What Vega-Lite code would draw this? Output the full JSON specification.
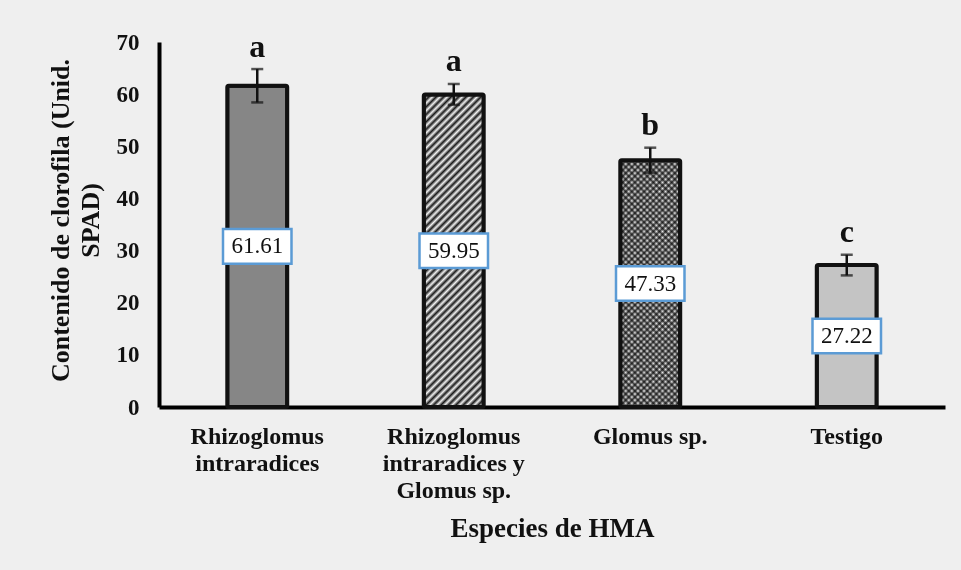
{
  "$schema": "https://vega.github.io/schema/vega-lite/v6.json",
  "width": 786,
  "height": 365,
  "autosize": "none",
  "padding": {"left": 159, "top": 42, "right": 16, "bottom": 163},
  "background": "#efefef",
  "config": {
    "font": "Liberation Serif",
    "view": {"stroke": null}
  },
  "data": {
    "values": [
      {"especie": "Rhizoglomus intraradices", "media": 61.61, "inf": 58.41, "sup": 64.81, "letra": "a"},
      {"especie": "Rhizoglomus intraradices y Glomus sp.", "media": 59.95, "inf": 57.95, "sup": 61.95, "letra": "a"},
      {"especie": "Glomus sp.", "media": 47.33, "inf": 44.93, "sup": 49.73, "letra": "b"},
      {"especie": "Testigo", "media": 27.22, "inf": 25.24, "sup": 29.2, "letra": "c"}
    ]
  },
  "transform": [{"calculate": "datum.media / 2", "as": "centro"}],
  "encoding": {
    "x": {
      "field": "especie",
      "type": "nominal",
      "sort": null,
      "scale": {"paddingInner": 0.695, "paddingOuter": 0.3475},
      "axis": {
        "title": "Especies de HMA",
        "titleFontSize": 27,
        "titleFontWeight": "bold",
        "titleColor": "#111",
        "titleBaseline": "alphabetic",
        "titleY": 129,
        "labelAngle": 0,
        "labelFontSize": 24,
        "labelFontWeight": "bold",
        "labelColor": "#111",
        "labelAlign": "center",
        "labelBaseline": "alphabetic",
        "labelLineHeight": 27,
        "labelPadding": 36,
        "labelLimit": 0,
        "ticks": false,
        "tickSize": 0,
        "domainColor": "#000",
        "domainWidth": 4,
        "labelExpr": "datum.value == 'Rhizoglomus intraradices' ? ['Rhizoglomus', 'intraradices'] : datum.value == 'Rhizoglomus intraradices y Glomus sp.' ? ['Rhizoglomus', 'intraradices y', 'Glomus sp.'] : datum.value"
      }
    }
  },
  "layer": [
    {
      "mark": {"type": "bar"},
      "encoding": {
        "y": {
          "field": "media",
          "type": "quantitative",
          "scale": {"domain": [0, 70], "nice": false},
          "axis": {
            "title": ["Contenido de clorofila (Unid.", "SPAD)"],
            "titleFontSize": 26,
            "titleFontWeight": "bold",
            "titleColor": "#111",
            "titleLineHeight": 30,
            "titleAngle": -90,
            "titleAlign": "center",
            "titleBaseline": "middle",
            "titleX": -99,
            "titleY": 178,
            "values": [0, 10, 20, 30, 40, 50, 60, 70],
            "labelFontSize": 23,
            "labelFontWeight": "bold",
            "labelColor": "#111",
            "labelPadding": 20,
            "ticks": false,
            "tickSize": 0,
            "grid": false,
            "domainColor": "#000",
            "domainWidth": 4
          }
        },
        "fill": {
          "field": "especie",
          "type": "nominal",
          "sort": null,
          "scale": {"range": ["#868686", "#7e7e7e", "#a2a2a2", "#c4c4c4"]},
          "legend": null
        }
      }
    },
    {
      "transform": [{"filter": "datum.especie == 'Rhizoglomus intraradices y Glomus sp.'"}],
      "mark": {
        "type": "bar",
        "fill": {
          "gradient": "linear", "x1": 0, "y1": 0, "x2": 0.2204, "y2": 1.1494,
          "stops": [
            {"offset": 0, "color": "#1a1a1a"}, {"offset": 0.01, "color": "#f2f2f2"}, {"offset": 0.02, "color": "#1a1a1a"}, {"offset": 0.03, "color": "#f2f2f2"}, {"offset": 0.04, "color": "#1a1a1a"}, {"offset": 0.05, "color": "#f2f2f2"}, {"offset": 0.06, "color": "#1a1a1a"}, {"offset": 0.07, "color": "#f2f2f2"}, {"offset": 0.08, "color": "#1a1a1a"}, {"offset": 0.09, "color": "#f2f2f2"},
            {"offset": 0.1, "color": "#1a1a1a"}, {"offset": 0.11, "color": "#f2f2f2"}, {"offset": 0.12, "color": "#1a1a1a"}, {"offset": 0.13, "color": "#f2f2f2"}, {"offset": 0.14, "color": "#1a1a1a"}, {"offset": 0.15, "color": "#f2f2f2"}, {"offset": 0.16, "color": "#1a1a1a"}, {"offset": 0.17, "color": "#f2f2f2"}, {"offset": 0.18, "color": "#1a1a1a"}, {"offset": 0.19, "color": "#f2f2f2"},
            {"offset": 0.2, "color": "#1a1a1a"}, {"offset": 0.21, "color": "#f2f2f2"}, {"offset": 0.22, "color": "#1a1a1a"}, {"offset": 0.23, "color": "#f2f2f2"}, {"offset": 0.24, "color": "#1a1a1a"}, {"offset": 0.25, "color": "#f2f2f2"}, {"offset": 0.26, "color": "#1a1a1a"}, {"offset": 0.27, "color": "#f2f2f2"}, {"offset": 0.28, "color": "#1a1a1a"}, {"offset": 0.29, "color": "#f2f2f2"},
            {"offset": 0.3, "color": "#1a1a1a"}, {"offset": 0.31, "color": "#f2f2f2"}, {"offset": 0.32, "color": "#1a1a1a"}, {"offset": 0.33, "color": "#f2f2f2"}, {"offset": 0.34, "color": "#1a1a1a"}, {"offset": 0.35, "color": "#f2f2f2"}, {"offset": 0.36, "color": "#1a1a1a"}, {"offset": 0.37, "color": "#f2f2f2"}, {"offset": 0.38, "color": "#1a1a1a"}, {"offset": 0.39, "color": "#f2f2f2"},
            {"offset": 0.4, "color": "#1a1a1a"}, {"offset": 0.41, "color": "#f2f2f2"}, {"offset": 0.42, "color": "#1a1a1a"}, {"offset": 0.43, "color": "#f2f2f2"}, {"offset": 0.44, "color": "#1a1a1a"}, {"offset": 0.45, "color": "#f2f2f2"}, {"offset": 0.46, "color": "#1a1a1a"}, {"offset": 0.47, "color": "#f2f2f2"}, {"offset": 0.48, "color": "#1a1a1a"}, {"offset": 0.49, "color": "#f2f2f2"},
            {"offset": 0.5, "color": "#1a1a1a"}, {"offset": 0.51, "color": "#f2f2f2"}, {"offset": 0.52, "color": "#1a1a1a"}, {"offset": 0.53, "color": "#f2f2f2"}, {"offset": 0.54, "color": "#1a1a1a"}, {"offset": 0.55, "color": "#f2f2f2"}, {"offset": 0.56, "color": "#1a1a1a"}, {"offset": 0.57, "color": "#f2f2f2"}, {"offset": 0.58, "color": "#1a1a1a"}, {"offset": 0.59, "color": "#f2f2f2"},
            {"offset": 0.6, "color": "#1a1a1a"}, {"offset": 0.61, "color": "#f2f2f2"}, {"offset": 0.62, "color": "#1a1a1a"}, {"offset": 0.63, "color": "#f2f2f2"}, {"offset": 0.64, "color": "#1a1a1a"}, {"offset": 0.65, "color": "#f2f2f2"}, {"offset": 0.66, "color": "#1a1a1a"}, {"offset": 0.67, "color": "#f2f2f2"}, {"offset": 0.68, "color": "#1a1a1a"}, {"offset": 0.69, "color": "#f2f2f2"},
            {"offset": 0.7, "color": "#1a1a1a"}, {"offset": 0.71, "color": "#f2f2f2"}, {"offset": 0.72, "color": "#1a1a1a"}, {"offset": 0.73, "color": "#f2f2f2"}, {"offset": 0.74, "color": "#1a1a1a"}, {"offset": 0.75, "color": "#f2f2f2"}, {"offset": 0.76, "color": "#1a1a1a"}, {"offset": 0.77, "color": "#f2f2f2"}, {"offset": 0.78, "color": "#1a1a1a"}, {"offset": 0.79, "color": "#f2f2f2"},
            {"offset": 0.8, "color": "#1a1a1a"}, {"offset": 0.81, "color": "#f2f2f2"}, {"offset": 0.82, "color": "#1a1a1a"}, {"offset": 0.83, "color": "#f2f2f2"}, {"offset": 0.84, "color": "#1a1a1a"}, {"offset": 0.85, "color": "#f2f2f2"}, {"offset": 0.86, "color": "#1a1a1a"}, {"offset": 0.87, "color": "#f2f2f2"}, {"offset": 0.88, "color": "#1a1a1a"}, {"offset": 0.89, "color": "#f2f2f2"},
            {"offset": 0.9, "color": "#1a1a1a"}, {"offset": 0.91, "color": "#f2f2f2"}, {"offset": 0.92, "color": "#1a1a1a"}, {"offset": 0.93, "color": "#f2f2f2"}, {"offset": 0.94, "color": "#1a1a1a"}, {"offset": 0.95, "color": "#f2f2f2"}, {"offset": 0.96, "color": "#1a1a1a"}, {"offset": 0.97, "color": "#f2f2f2"}, {"offset": 0.98, "color": "#1a1a1a"}, {"offset": 0.99, "color": "#f2f2f2"},
            {"offset": 1, "color": "#1a1a1a"}
          ]
        }
      },
      "encoding": {"y": {"field": "media", "type": "quantitative"}}
    },
    {
      "transform": [{"filter": "datum.especie == 'Glomus sp.'"}],
      "mark": {
        "type": "bar",
        "fill": {
          "gradient": "linear", "x1": 0, "y1": 0, "x2": 0.285, "y2": 1.1735,
          "stops": [
            {"offset": 0, "color": "#4a4a4a"}, {"offset": 0.01, "color": "#f6f6f6"}, {"offset": 0.02, "color": "#4a4a4a"}, {"offset": 0.03, "color": "#f6f6f6"}, {"offset": 0.04, "color": "#4a4a4a"}, {"offset": 0.05, "color": "#f6f6f6"}, {"offset": 0.06, "color": "#4a4a4a"}, {"offset": 0.07, "color": "#f6f6f6"}, {"offset": 0.08, "color": "#4a4a4a"}, {"offset": 0.09, "color": "#f6f6f6"},
            {"offset": 0.1, "color": "#4a4a4a"}, {"offset": 0.11, "color": "#f6f6f6"}, {"offset": 0.12, "color": "#4a4a4a"}, {"offset": 0.13, "color": "#f6f6f6"}, {"offset": 0.14, "color": "#4a4a4a"}, {"offset": 0.15, "color": "#f6f6f6"}, {"offset": 0.16, "color": "#4a4a4a"}, {"offset": 0.17, "color": "#f6f6f6"}, {"offset": 0.18, "color": "#4a4a4a"}, {"offset": 0.19, "color": "#f6f6f6"},
            {"offset": 0.2, "color": "#4a4a4a"}, {"offset": 0.21, "color": "#f6f6f6"}, {"offset": 0.22, "color": "#4a4a4a"}, {"offset": 0.23, "color": "#f6f6f6"}, {"offset": 0.24, "color": "#4a4a4a"}, {"offset": 0.25, "color": "#f6f6f6"}, {"offset": 0.26, "color": "#4a4a4a"}, {"offset": 0.27, "color": "#f6f6f6"}, {"offset": 0.28, "color": "#4a4a4a"}, {"offset": 0.29, "color": "#f6f6f6"},
            {"offset": 0.3, "color": "#4a4a4a"}, {"offset": 0.31, "color": "#f6f6f6"}, {"offset": 0.32, "color": "#4a4a4a"}, {"offset": 0.33, "color": "#f6f6f6"}, {"offset": 0.34, "color": "#4a4a4a"}, {"offset": 0.35, "color": "#f6f6f6"}, {"offset": 0.36, "color": "#4a4a4a"}, {"offset": 0.37, "color": "#f6f6f6"}, {"offset": 0.38, "color": "#4a4a4a"}, {"offset": 0.39, "color": "#f6f6f6"},
            {"offset": 0.4, "color": "#4a4a4a"}, {"offset": 0.41, "color": "#f6f6f6"}, {"offset": 0.42, "color": "#4a4a4a"}, {"offset": 0.43, "color": "#f6f6f6"}, {"offset": 0.44, "color": "#4a4a4a"}, {"offset": 0.45, "color": "#f6f6f6"}, {"offset": 0.46, "color": "#4a4a4a"}, {"offset": 0.47, "color": "#f6f6f6"}, {"offset": 0.48, "color": "#4a4a4a"}, {"offset": 0.49, "color": "#f6f6f6"},
            {"offset": 0.5, "color": "#4a4a4a"}, {"offset": 0.51, "color": "#f6f6f6"}, {"offset": 0.52, "color": "#4a4a4a"}, {"offset": 0.53, "color": "#f6f6f6"}, {"offset": 0.54, "color": "#4a4a4a"}, {"offset": 0.55, "color": "#f6f6f6"}, {"offset": 0.56, "color": "#4a4a4a"}, {"offset": 0.57, "color": "#f6f6f6"}, {"offset": 0.58, "color": "#4a4a4a"}, {"offset": 0.59, "color": "#f6f6f6"},
            {"offset": 0.6, "color": "#4a4a4a"}, {"offset": 0.61, "color": "#f6f6f6"}, {"offset": 0.62, "color": "#4a4a4a"}, {"offset": 0.63, "color": "#f6f6f6"}, {"offset": 0.64, "color": "#4a4a4a"}, {"offset": 0.65, "color": "#f6f6f6"}, {"offset": 0.66, "color": "#4a4a4a"}, {"offset": 0.67, "color": "#f6f6f6"}, {"offset": 0.68, "color": "#4a4a4a"}, {"offset": 0.69, "color": "#f6f6f6"},
            {"offset": 0.7, "color": "#4a4a4a"}, {"offset": 0.71, "color": "#f6f6f6"}, {"offset": 0.72, "color": "#4a4a4a"}, {"offset": 0.73, "color": "#f6f6f6"}, {"offset": 0.74, "color": "#4a4a4a"}, {"offset": 0.75, "color": "#f6f6f6"}, {"offset": 0.76, "color": "#4a4a4a"}, {"offset": 0.77, "color": "#f6f6f6"}, {"offset": 0.78, "color": "#4a4a4a"}, {"offset": 0.79, "color": "#f6f6f6"},
            {"offset": 0.8, "color": "#4a4a4a"}, {"offset": 0.81, "color": "#f6f6f6"}, {"offset": 0.82, "color": "#4a4a4a"}, {"offset": 0.83, "color": "#f6f6f6"}, {"offset": 0.84, "color": "#4a4a4a"}, {"offset": 0.85, "color": "#f6f6f6"}, {"offset": 0.86, "color": "#4a4a4a"}, {"offset": 0.87, "color": "#f6f6f6"}, {"offset": 0.88, "color": "#4a4a4a"}, {"offset": 0.89, "color": "#f6f6f6"},
            {"offset": 0.9, "color": "#4a4a4a"}, {"offset": 0.91, "color": "#f6f6f6"}, {"offset": 0.92, "color": "#4a4a4a"}, {"offset": 0.93, "color": "#f6f6f6"}, {"offset": 0.94, "color": "#4a4a4a"}, {"offset": 0.95, "color": "#f6f6f6"}, {"offset": 0.96, "color": "#4a4a4a"}, {"offset": 0.97, "color": "#f6f6f6"}, {"offset": 0.98, "color": "#4a4a4a"}, {"offset": 0.99, "color": "#f6f6f6"},
            {"offset": 1, "color": "#4a4a4a"}
          ]
        }
      },
      "encoding": {"y": {"field": "media", "type": "quantitative"}}
    },
    {
      "transform": [{"filter": "datum.especie == 'Glomus sp.'"}],
      "mark": {
        "type": "bar",
        "blend": "multiply",
        "fill": {
          "gradient": "linear", "x1": 0, "y1": 1, "x2": 0.285, "y2": -0.1735,
          "stops": [
            {"offset": 0, "color": "#4a4a4a"}, {"offset": 0.01, "color": "#f6f6f6"}, {"offset": 0.02, "color": "#4a4a4a"}, {"offset": 0.03, "color": "#f6f6f6"}, {"offset": 0.04, "color": "#4a4a4a"}, {"offset": 0.05, "color": "#f6f6f6"}, {"offset": 0.06, "color": "#4a4a4a"}, {"offset": 0.07, "color": "#f6f6f6"}, {"offset": 0.08, "color": "#4a4a4a"}, {"offset": 0.09, "color": "#f6f6f6"},
            {"offset": 0.1, "color": "#4a4a4a"}, {"offset": 0.11, "color": "#f6f6f6"}, {"offset": 0.12, "color": "#4a4a4a"}, {"offset": 0.13, "color": "#f6f6f6"}, {"offset": 0.14, "color": "#4a4a4a"}, {"offset": 0.15, "color": "#f6f6f6"}, {"offset": 0.16, "color": "#4a4a4a"}, {"offset": 0.17, "color": "#f6f6f6"}, {"offset": 0.18, "color": "#4a4a4a"}, {"offset": 0.19, "color": "#f6f6f6"},
            {"offset": 0.2, "color": "#4a4a4a"}, {"offset": 0.21, "color": "#f6f6f6"}, {"offset": 0.22, "color": "#4a4a4a"}, {"offset": 0.23, "color": "#f6f6f6"}, {"offset": 0.24, "color": "#4a4a4a"}, {"offset": 0.25, "color": "#f6f6f6"}, {"offset": 0.26, "color": "#4a4a4a"}, {"offset": 0.27, "color": "#f6f6f6"}, {"offset": 0.28, "color": "#4a4a4a"}, {"offset": 0.29, "color": "#f6f6f6"},
            {"offset": 0.3, "color": "#4a4a4a"}, {"offset": 0.31, "color": "#f6f6f6"}, {"offset": 0.32, "color": "#4a4a4a"}, {"offset": 0.33, "color": "#f6f6f6"}, {"offset": 0.34, "color": "#4a4a4a"}, {"offset": 0.35, "color": "#f6f6f6"}, {"offset": 0.36, "color": "#4a4a4a"}, {"offset": 0.37, "color": "#f6f6f6"}, {"offset": 0.38, "color": "#4a4a4a"}, {"offset": 0.39, "color": "#f6f6f6"},
            {"offset": 0.4, "color": "#4a4a4a"}, {"offset": 0.41, "color": "#f6f6f6"}, {"offset": 0.42, "color": "#4a4a4a"}, {"offset": 0.43, "color": "#f6f6f6"}, {"offset": 0.44, "color": "#4a4a4a"}, {"offset": 0.45, "color": "#f6f6f6"}, {"offset": 0.46, "color": "#4a4a4a"}, {"offset": 0.47, "color": "#f6f6f6"}, {"offset": 0.48, "color": "#4a4a4a"}, {"offset": 0.49, "color": "#f6f6f6"},
            {"offset": 0.5, "color": "#4a4a4a"}, {"offset": 0.51, "color": "#f6f6f6"}, {"offset": 0.52, "color": "#4a4a4a"}, {"offset": 0.53, "color": "#f6f6f6"}, {"offset": 0.54, "color": "#4a4a4a"}, {"offset": 0.55, "color": "#f6f6f6"}, {"offset": 0.56, "color": "#4a4a4a"}, {"offset": 0.57, "color": "#f6f6f6"}, {"offset": 0.58, "color": "#4a4a4a"}, {"offset": 0.59, "color": "#f6f6f6"},
            {"offset": 0.6, "color": "#4a4a4a"}, {"offset": 0.61, "color": "#f6f6f6"}, {"offset": 0.62, "color": "#4a4a4a"}, {"offset": 0.63, "color": "#f6f6f6"}, {"offset": 0.64, "color": "#4a4a4a"}, {"offset": 0.65, "color": "#f6f6f6"}, {"offset": 0.66, "color": "#4a4a4a"}, {"offset": 0.67, "color": "#f6f6f6"}, {"offset": 0.68, "color": "#4a4a4a"}, {"offset": 0.69, "color": "#f6f6f6"},
            {"offset": 0.7, "color": "#4a4a4a"}, {"offset": 0.71, "color": "#f6f6f6"}, {"offset": 0.72, "color": "#4a4a4a"}, {"offset": 0.73, "color": "#f6f6f6"}, {"offset": 0.74, "color": "#4a4a4a"}, {"offset": 0.75, "color": "#f6f6f6"}, {"offset": 0.76, "color": "#4a4a4a"}, {"offset": 0.77, "color": "#f6f6f6"}, {"offset": 0.78, "color": "#4a4a4a"}, {"offset": 0.79, "color": "#f6f6f6"},
            {"offset": 0.8, "color": "#4a4a4a"}, {"offset": 0.81, "color": "#f6f6f6"}, {"offset": 0.82, "color": "#4a4a4a"}, {"offset": 0.83, "color": "#f6f6f6"}, {"offset": 0.84, "color": "#4a4a4a"}, {"offset": 0.85, "color": "#f6f6f6"}, {"offset": 0.86, "color": "#4a4a4a"}, {"offset": 0.87, "color": "#f6f6f6"}, {"offset": 0.88, "color": "#4a4a4a"}, {"offset": 0.89, "color": "#f6f6f6"},
            {"offset": 0.9, "color": "#4a4a4a"}, {"offset": 0.91, "color": "#f6f6f6"}, {"offset": 0.92, "color": "#4a4a4a"}, {"offset": 0.93, "color": "#f6f6f6"}, {"offset": 0.94, "color": "#4a4a4a"}, {"offset": 0.95, "color": "#f6f6f6"}, {"offset": 0.96, "color": "#4a4a4a"}, {"offset": 0.97, "color": "#f6f6f6"}, {"offset": 0.98, "color": "#4a4a4a"}, {"offset": 0.99, "color": "#f6f6f6"},
            {"offset": 1, "color": "#4a4a4a"}
          ]
        }
      },
      "encoding": {"y": {"field": "media", "type": "quantitative"}}
    },
    {
      "mark": {"type": "bar", "fill": "transparent", "stroke": "#111", "strokeWidth": 4, "strokeJoin": "round", "cornerRadius": 1.5},
      "encoding": {"y": {"field": "media", "type": "quantitative"}}
    },
    {
      "mark": {"type": "rule", "color": "#111", "strokeWidth": 2.5},
      "encoding": {
        "y": {"field": "inf", "type": "quantitative"},
        "y2": {"field": "sup"}
      }
    },
    {
      "mark": {"type": "tick", "color": "#111", "size": 12, "thickness": 2.5},
      "encoding": {"y": {"field": "inf", "type": "quantitative"}}
    },
    {
      "mark": {"type": "tick", "color": "#111", "size": 12, "thickness": 2.5},
      "encoding": {"y": {"field": "sup", "type": "quantitative"}}
    },
    {
      "mark": {"type": "text", "fontSize": 32, "fontWeight": "bold", "color": "#111", "baseline": "alphabetic", "dy": -12.5},
      "encoding": {
        "y": {"field": "sup", "type": "quantitative"},
        "text": {"field": "letra"}
      }
    },
    {
      "mark": {"type": "point", "shape": "M-1,-0.504H1V0.504H-1Z", "size": 4692, "filled": true, "fill": "#ffffff", "fillOpacity": 1, "stroke": "#5b9bd5", "strokeWidth": 2.5, "opacity": 1},
      "encoding": {"y": {"field": "centro", "type": "quantitative"}}
    },
    {
      "mark": {"type": "text", "fontSize": 23, "color": "#111", "baseline": "middle"},
      "encoding": {
        "y": {"field": "centro", "type": "quantitative"},
        "text": {"field": "media", "type": "quantitative", "format": ".2f"}
      }
    }
  ]
}
